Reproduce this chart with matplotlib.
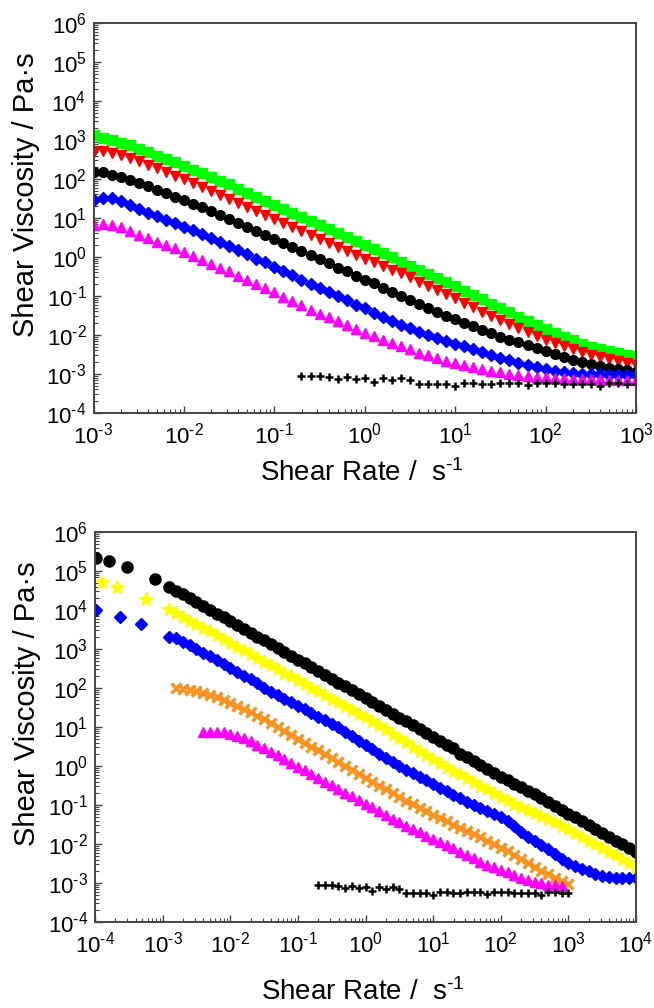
import numpy as np
import matplotlib.pyplot as plt
from matplotlib.ticker import LogLocator, NullFormatter, FuncFormatter

plt.rcParams['font.family'] = ['Liberation Sans', 'DejaVu Sans']
plt.rcParams['mathtext.default'] = 'regular'
plt.rcParams['axes.unicode_minus'] = False

# ---- data (log10 values) ----
# top panel: shared shear-rate grid, log10(1/s)
top_rate = [-3.0, -2.9, -2.8, -2.7, -2.6, -2.5, -2.4, -2.3, -2.2, -2.1,
            -2.0, -1.9, -1.8, -1.7, -1.6, -1.5, -1.4, -1.3, -1.2, -1.1,
            -1.0, -0.9, -0.8, -0.7, -0.6, -0.5, -0.4, -0.3, -0.2, -0.1,
            0.0, 0.1, 0.2, 0.3, 0.4, 0.5, 0.6, 0.7, 0.8, 0.9,
            1.0, 1.1, 1.2, 1.3, 1.4, 1.5, 1.6, 1.7, 1.8, 1.9,
            2.0, 2.1, 2.2, 2.3, 2.4, 2.5, 2.6, 2.7, 2.8, 2.9, 3.0]
top_green = [3.12, 3.05, 3.00, 2.93, 2.86, 2.78, 2.69, 2.60, 2.52, 2.43,
             2.34, 2.24, 2.15, 2.05, 1.96, 1.86, 1.75, 1.65, 1.54, 1.44,
             1.33, 1.23, 1.13, 1.03, 0.92, 0.82, 0.72, 0.61, 0.51, 0.40,
             0.30, 0.20, 0.09, -0.01, -0.12, -0.22, -0.33, -0.43, -0.54, -0.64,
             -0.75, -0.86, -0.97, -1.09, -1.20, -1.31, -1.42, -1.53, -1.63, -1.74,
             -1.85, -1.95, -2.04, -2.13, -2.22, -2.30, -2.37, -2.42, -2.47, -2.51, -2.54]
top_red = [2.70, 2.71, 2.67, 2.61, 2.53, 2.45, 2.36, 2.27, 2.17, 2.08,
           1.99, 1.89, 1.79, 1.69, 1.59, 1.49, 1.39, 1.28, 1.18, 1.07,
           0.97, 0.87, 0.77, 0.66, 0.56, 0.46, 0.36, 0.26, 0.16, 0.06,
           -0.04, -0.14, -0.23, -0.33, -0.42, -0.52, -0.63, -0.74, -0.84, -0.95,
           -1.06, -1.17, -1.28, -1.40, -1.51, -1.62, -1.72, -1.82, -1.92, -2.02,
           -2.12, -2.20, -2.28, -2.36, -2.44, -2.52, -2.57, -2.62, -2.67, -2.72, -2.77]
top_black = [2.18, 2.17, 2.10, 2.04, 1.97, 1.89, 1.81, 1.72, 1.64, 1.55,
             1.46, 1.36, 1.27, 1.17, 1.08, 0.98, 0.87, 0.77, 0.66, 0.56,
             0.45, 0.35, 0.25, 0.15, 0.04, -0.06, -0.16, -0.27, -0.37, -0.48,
             -0.58, -0.68, -0.79, -0.89, -1.00, -1.10, -1.21, -1.31, -1.41, -1.51,
             -1.60, -1.69, -1.78, -1.88, -1.96, -2.04, -2.12, -2.19, -2.26, -2.34,
             -2.42, -2.50, -2.56, -2.63, -2.69, -2.75, -2.80, -2.84, -2.88, -2.91, -2.94]
top_blue = [1.47, 1.52, 1.50, 1.43, 1.33, 1.22, 1.13, 1.04, 0.96, 0.87,
            0.78, 0.68, 0.58, 0.48, 0.38, 0.28, 0.17, 0.07, -0.04, -0.14,
            -0.25, -0.36, -0.47, -0.58, -0.69, -0.80, -0.90, -1.01, -1.11, -1.22,
            -1.32, -1.43, -1.54, -1.64, -1.74, -1.83, -1.92, -2.00, -2.08, -2.15,
            -2.22, -2.29, -2.36, -2.44, -2.51, -2.58, -2.65, -2.71, -2.77, -2.83,
            -2.88, -2.92, -2.95, -2.97, -2.99, -3.00, -3.01, -3.02, -3.02, -3.03, -3.03]
top_magenta = [0.82, 0.84, 0.83, 0.76, 0.67, 0.57, 0.48, 0.39, 0.31, 0.22,
               0.13, 0.03, -0.07, -0.17, -0.27, -0.37, -0.48, -0.59, -0.70, -0.80,
               -0.91, -1.02, -1.13, -1.24, -1.35, -1.45, -1.55, -1.65, -1.75, -1.85,
               -1.94, -2.03, -2.12, -2.20, -2.29, -2.37, -2.45, -2.52, -2.59, -2.66,
               -2.72, -2.77, -2.82, -2.87, -2.92, -2.96, -2.99, -3.02, -3.05, -3.07,
               -3.09, -3.10, -3.11, -3.12, -3.13, -3.14, -3.14, -3.15, -3.15, -3.15, -3.16]

# solvent reference (black crosses), same in both panels
ref_rate = [-0.7, -0.6, -0.5, -0.4, -0.3, -0.2, -0.1, 0.0, 0.1, 0.2,
            0.3, 0.4, 0.5, 0.6, 0.7, 0.8, 0.9, 1.0, 1.1, 1.2,
            1.3, 1.4, 1.5, 1.6, 1.7, 1.8, 1.9, 2.0, 2.1, 2.2,
            2.3, 2.4, 2.5, 2.6, 2.7, 2.8, 2.9, 3.0]
ref_visc = [-3.04, -3.05, -3.06, -3.07, -3.12, -3.08, -3.14, -3.10, -3.20, -3.10,
            -3.15, -3.10, -3.15, -3.26, -3.26, -3.26, -3.26, -3.30, -3.23, -3.23,
            -3.26, -3.26, -3.23, -3.23, -3.23, -3.29, -3.23, -3.23, -3.23, -3.26,
            -3.26, -3.26, -3.26, -3.30, -3.23, -3.23, -3.26, -3.26]

# bottom panel
bot_rate = [-2.9, -2.8, -2.7, -2.6, -2.5, -2.4, -2.3, -2.2, -2.1, -2.0,
            -1.9, -1.8, -1.7, -1.6, -1.5, -1.4, -1.3, -1.2, -1.1, -1.0,
            -0.9, -0.8, -0.7, -0.6, -0.5, -0.4, -0.3, -0.2, -0.1, 0.0,
            0.1, 0.2, 0.3, 0.4, 0.5, 0.6, 0.7, 0.8, 0.9, 1.0,
            1.1, 1.2, 1.3, 1.4, 1.5, 1.6, 1.7, 1.8, 1.9, 2.0,
            2.1, 2.2, 2.3, 2.4, 2.5, 2.6, 2.7, 2.8, 2.9, 3.0,
            3.1, 3.2, 3.3, 3.4, 3.5, 3.6, 3.7, 3.8, 3.9, 4.0]
bot_black = [4.60, 4.50, 4.40, 4.30, 4.21, 4.11, 4.01, 3.91, 3.81, 3.71,
             3.61, 3.51, 3.42, 3.32, 3.22, 3.12, 3.02, 2.92, 2.82, 2.72,
             2.63, 2.53, 2.43, 2.33, 2.23, 2.13, 2.04, 1.94, 1.84, 1.74,
             1.64, 1.54, 1.44, 1.34, 1.24, 1.15, 1.05, 0.95, 0.85, 0.75,
             0.65, 0.55, 0.45, 0.32, 0.22, 0.12, 0.02, -0.07, -0.17, -0.27,
             -0.36, -0.45, -0.54, -0.63, -0.73, -0.83, -0.93, -1.02, -1.12, -1.22,
             -1.32, -1.42, -1.52, -1.62, -1.71, -1.81, -1.91, -2.01, -2.11, -2.21]
bot_yellow = [4.02, 3.92, 3.83, 3.73, 3.64, 3.54, 3.45, 3.35, 3.25, 3.16,
              3.06, 2.97, 2.87, 2.78, 2.68, 2.59, 2.49, 2.39, 2.30, 2.20,
              2.11, 2.01, 1.92, 1.82, 1.72, 1.63, 1.53, 1.44, 1.34, 1.25,
              1.15, 1.04, 0.94, 0.83, 0.72, 0.61, 0.50, 0.38, 0.27, 0.17,
              0.07, -0.02, -0.12, -0.21, -0.31, -0.40, -0.50, -0.60, -0.69, -0.79,
              -0.88, -0.97, -1.05, -1.13, -1.21, -1.28, -1.36, -1.44, -1.53, -1.62,
              -1.72, -1.82, -1.91, -2.01, -2.10, -2.20, -2.29, -2.39, -2.48, -2.58]
bot_blue = [3.32, 3.27, 3.19, 3.10, 3.01, 2.91, 2.81, 2.71, 2.62, 2.52,
            2.42, 2.32, 2.22, 2.12, 2.01, 1.91, 1.82, 1.72, 1.63, 1.54,
            1.45, 1.36, 1.26, 1.17, 1.08, 0.99, 0.88, 0.77, 0.65, 0.54,
            0.43, 0.32, 0.21, 0.10, -0.01, -0.10, -0.19, -0.28, -0.37, -0.47,
            -0.56, -0.65, -0.74, -0.83, -0.91, -0.99, -1.07, -1.15, -1.23, -1.31,
            -1.42, -1.55, -1.69, -1.81, -1.92, -2.03, -2.14, -2.26, -2.38, -2.48,
            -2.56, -2.63, -2.70, -2.76, -2.81, -2.85, -2.87, -2.88, -2.88, -2.87]
# sparse low-rate points
black_lo_rate = [-3.99, -3.80, -3.52, -3.11]
black_lo_visc = [5.33, 5.26, 5.11, 4.79]
yellow_lo_rate = [-3.90, -3.67, -3.24]
yellow_lo_visc = [4.73, 4.60, 4.27]
blue_lo_rate = [-3.98, -3.63, -3.32]
blue_lo_visc = [4.00, 3.83, 3.63]

orange_rate = [-2.8, -2.7, -2.6, -2.5, -2.4, -2.3, -2.2, -2.1, -2.0, -1.9,
               -1.8, -1.7, -1.6, -1.5, -1.4, -1.3, -1.2, -1.1, -1.0, -0.9,
               -0.8, -0.7, -0.6, -0.5, -0.4, -0.3, -0.2, -0.1, 0.0, 0.1,
               0.2, 0.3, 0.4, 0.5, 0.6, 0.7, 0.8, 0.9, 1.0, 1.1,
               1.2, 1.3, 1.4, 1.5, 1.6, 1.7, 1.8, 1.9, 2.0, 2.1,
               2.2, 2.3, 2.4, 2.5, 2.6, 2.7, 2.8, 2.9, 3.0]
orange_visc = [1.99, 1.98, 1.96, 1.93, 1.88, 1.82, 1.76, 1.69, 1.62, 1.54,
               1.46, 1.38, 1.29, 1.20, 1.10, 1.00, 0.90, 0.80, 0.70, 0.60,
               0.50, 0.40, 0.30, 0.20, 0.10, 0.00, -0.10, -0.20, -0.30, -0.40,
               -0.50, -0.60, -0.70, -0.80, -0.89, -0.98, -1.07, -1.16, -1.25, -1.34,
               -1.42, -1.50, -1.58, -1.66, -1.75, -1.83, -1.92, -2.01, -2.10, -2.19,
               -2.29, -2.39, -2.49, -2.59, -2.69, -2.78, -2.87, -2.95, -3.02]
magenta_rate = [-2.4, -2.3, -2.2, -2.1, -2.0, -1.9, -1.8, -1.7, -1.6, -1.5,
                -1.4, -1.3, -1.2, -1.1, -1.0, -0.9, -0.8, -0.7, -0.6, -0.5,
                -0.4, -0.3, -0.2, -0.1, 0.0, 0.1, 0.2, 0.3, 0.4, 0.5,
                0.6, 0.7, 0.8, 0.9, 1.0, 1.1, 1.2, 1.3, 1.4, 1.5,
                1.6, 1.7, 1.8, 1.9, 2.0, 2.1, 2.2, 2.3, 2.4, 2.5,
                2.6, 2.7, 2.8, 2.9]
magenta_visc = [0.86, 0.88, 0.88, 0.86, 0.83, 0.78, 0.71, 0.63, 0.55, 0.46,
                0.37, 0.27, 0.17, 0.08, -0.02, -0.11, -0.21, -0.30, -0.40, -0.49,
                -0.59, -0.68, -0.78, -0.87, -0.97, -1.06, -1.16, -1.25, -1.35, -1.44,
                -1.53, -1.62, -1.70, -1.79, -1.87, -1.95, -2.03, -2.11, -2.20, -2.28,
                -2.36, -2.45, -2.53, -2.60, -2.67, -2.73, -2.80, -2.86, -2.92, -2.97,
                -3.01, -3.04, -3.06, -3.08]

HYPH = '\u2010'


def p(v):
    return 10 ** np.asarray(v)


def decade_label(val, pos):
    e = int(round(np.log10(val)))
    s = str(e).replace('-', HYPH)
    return '$10^{' + s + '}$'


def style_axes(ax, xlim):
    ax.set_xscale('log')
    ax.set_yscale('log')
    ax.set_xlim(*xlim)
    ax.set_ylim(1e-4, 1e6)
    for axis in (ax.xaxis, ax.yaxis):
        axis.set_major_locator(LogLocator(base=10, numticks=20))
        axis.set_major_formatter(FuncFormatter(decade_label))
        axis.set_minor_locator(LogLocator(base=10, subs=np.arange(2, 10), numticks=20))
        axis.set_minor_formatter(NullFormatter())
    ax.tick_params(which='both', direction='in', top=False, right=False,
                   color='#444444', labelsize=16)
    ax.tick_params(which='major', length=5, width=1.0)
    ax.tick_params(which='minor', length=3, width=0.8)
    ax.tick_params(axis='x', pad=7)
    ax.tick_params(axis='y', pad=5)
    for s in ax.spines.values():
        s.set_color('#444444')
        s.set_linewidth(1.4)
    ax.set_ylabel('Shear Viscosity / Pa·s', fontsize=21)
    ax.yaxis.set_label_coords(-0.125, 0.56)
    ax.yaxis.label.set_va('center')
    ax.set_xlabel('Shear Rate /  s$^{' + HYPH + '1}$', fontsize=20)
    ax.xaxis.label.set_va('center')


fig = plt.figure(figsize=(6.54, 10.08), dpi=100)
ax1 = fig.add_axes([0.1430, 0.5903, 0.8295, 0.3869])
ax2 = fig.add_axes([0.1453, 0.0853, 0.8272, 0.3869])

# top panel
ax1.plot(p(top_rate), p(top_green), ls='none', marker='s', ms=6.5, color='#00FF00', mec='#00FF00')
ax1.plot(p(top_rate), p(top_red), ls='none', marker='v', ms=7, color='#FF0000', mec='#FF0000')
ax1.plot(p(top_rate), p(top_black), ls='none', marker='o', ms=7, color='black')
ax1.plot(p(top_rate), p(top_blue), ls='none', marker='D', ms=6, color='#0000FF', mec='#0000FF')
ax1.plot(p(top_rate), p(top_magenta), ls='none', marker='^', ms=7, color='#FF00FF', mec='#FF00FF')
ax1.plot(p(ref_rate), p(ref_visc), ls='none', marker='+', ms=5.5, mew=1.8, color='black')
style_axes(ax1, (1e-3, 1e3))
ax1.xaxis.set_label_coords(0.495, -0.155)

# bottom panel
ax2.plot(p(black_lo_rate + bot_rate), p(black_lo_visc + bot_black), ls='none',
         marker='o', ms=8, color='black')
ax2.plot(p(yellow_lo_rate + bot_rate), p(yellow_lo_visc + bot_yellow), ls='none',
         marker='*', ms=10, color='#FFFF00', mec='#FFFF00')
ax2.plot(p(blue_lo_rate + bot_rate), p(blue_lo_visc + bot_blue), ls='none',
         marker='D', ms=6.5, color='#0000FF', mec='#0000FF')
ax2.plot(p(orange_rate), p(orange_visc), ls='none', marker='x', ms=7, mew=2.4,
         color='#F7931E')
ax2.plot(p(magenta_rate), p(magenta_visc), ls='none', marker='^', ms=7,
         color='#FF00FF', mec='#FF00FF')
ax2.plot(p(ref_rate), p(ref_visc), ls='none', marker='+', ms=5.5, mew=1.8, color='black')
style_axes(ax2, (1e-4, 1e4))
ax2.xaxis.set_label_coords(0.495, -0.18)

fig.savefig('out.png', dpi=100)
